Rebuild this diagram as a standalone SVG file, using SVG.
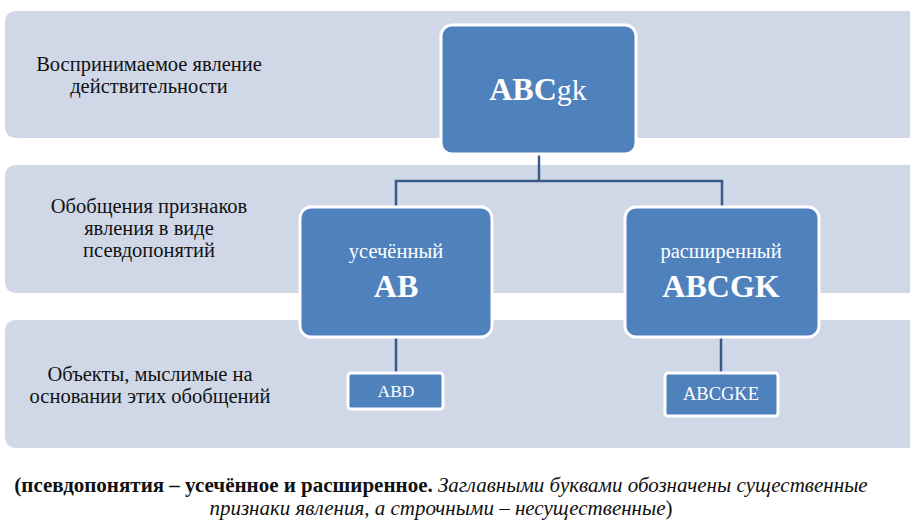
<svg xmlns="http://www.w3.org/2000/svg" width="910" height="532" viewBox="0 0 910 532">
<style>
.band{fill:#d0d8e7}
.node{fill:#4f81bd;stroke:#ffffff;stroke-width:3}
.lbl{font-size:20.5px;fill:#111111;text-anchor:middle}
.wt{fill:#ffffff;text-anchor:middle}
.big{font-size:32px;font-weight:bold}
.mid{font-size:20.5px}
.sm{font-size:17.5px}
.conn{fill:none;stroke:#3a5b87;stroke-width:2.5}
.cap{font-size:21px;fill:#111111}
</style>
<rect width="910" height="532" fill="#ffffff"/>
<g id="bands" font-family="Liberation Serif, DejaVu Serif, serif">
<path class="band" d="M17 11 H920 V138 H17 Q5 138 5 126 V23 Q5 11 17 11 Z"/>
<path class="band" d="M17 165 H920 V293 H17 Q5 293 5 281 V177 Q5 165 17 165 Z"/>
<path class="band" d="M17 320 H920 V448 H17 Q5 448 5 436 V332 Q5 320 17 320 Z"/>
<text class="lbl"><tspan x="149" y="71">Воспринимаемое явление</tspan><tspan x="149" y="93">действительности</tspan></text>
<text class="lbl"><tspan x="149" y="213">Обобщения признаков</tspan><tspan x="149" y="235">явления в виде</tspan><tspan x="149" y="257">псевдопонятий</tspan></text>
<text class="lbl"><tspan x="150" y="381">Объекты, мыслимые на</tspan><tspan x="150" y="403">основании этих обобщений</tspan></text>
</g>
<g id="connectors">
<path class="conn" d="M539 154 V181 M396 206 V181 H722 V206"/>
<path class="conn" d="M396 338 V373"/>
<path class="conn" d="M721 338 V373"/>
</g>
<g id="node-abcgk" font-family="Liberation Serif, DejaVu Serif, serif">
<rect class="node" x="441" y="25" width="195" height="129" rx="11"/>
<text class="wt" x="538" y="100"><tspan class="big">ABC</tspan><tspan font-size="30px" font-weight="normal">gk</tspan></text>
</g>
<g id="node-ab" font-family="Liberation Serif, DejaVu Serif, serif">
<rect class="node" x="300" y="207" width="192" height="130" rx="11"/>
<text class="wt mid" x="396" y="258">усечённый</text>
<text class="wt big" x="396" y="297">AB</text>
</g>
<g id="node-abcgk2" font-family="Liberation Serif, DejaVu Serif, serif">
<rect class="node" x="625" y="207" width="194" height="130" rx="11"/>
<text class="wt mid" x="721" y="258">расширенный</text>
<text class="wt big" x="721" y="297">ABCGK</text>
</g>
<g id="node-abd" font-family="Liberation Serif, DejaVu Serif, serif">
<rect class="node" x="348" y="373" width="95" height="36" rx="3"/>
<text class="wt sm" x="396" y="397">ABD</text>
</g>
<g id="node-abcgke" font-family="Liberation Serif, DejaVu Serif, serif">
<rect class="node" x="665" y="373" width="113" height="43" rx="3"/>
<text class="wt" x="721" y="400" font-size="18.5px">ABCGKE</text>
</g>
<g id="caption" font-family="Liberation Serif, DejaVu Serif, serif">
<text class="cap" x="441" y="492" text-anchor="middle"><tspan font-weight="bold">(псевдопонятия – усечённое и расширенное.</tspan> <tspan font-style="italic">Заглавными буквами обозначены существенные</tspan></text>
<text class="cap" x="441" y="515" text-anchor="middle"><tspan font-style="italic">признаки явления, а строчными – несущественные</tspan>)</text>
</g>
</svg>
